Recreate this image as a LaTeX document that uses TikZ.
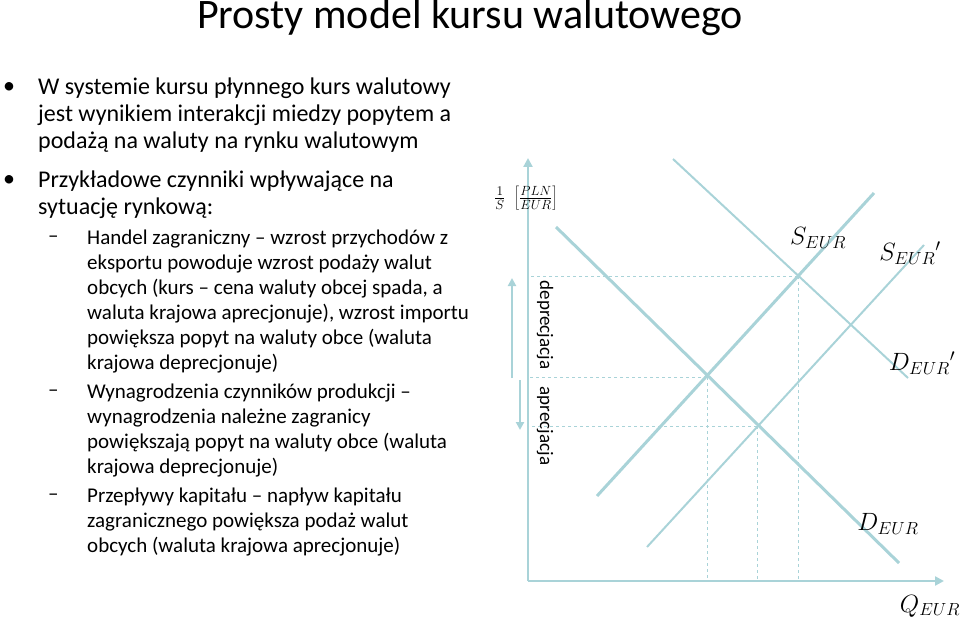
\RequirePackage{fix-cm}
\documentclass[tikz,border=0pt]{standalone}
\usepackage{fontspec}
\setmainfont{Carlito}
\usetikzlibrary{arrows.meta}
\begin{document}
\begin{tikzpicture}[x=1pt,y=-1pt,
 ln/.style={draw=cl,line width=3pt},
 lt/.style={draw=cl,line width=2pt},
 dl/.style={draw=cl,dashed,line width=0.7pt},
 t1/.style={anchor=west,inner sep=0pt,font=\fontsize{24}{28}\selectfont},
 t2/.style={anchor=west,inner sep=0pt,font=\fontsize{21}{25}\selectfont},
 lab/.style={inner sep=0pt,font=\fontsize{25}{30}\selectfont}]
\definecolor{cl}{HTML}{A9D3D8}
\useasboundingbox (0,0) rectangle (960,620);
\node[inner sep=0pt,font=\fontsize{42}{50}\selectfont] (title) at (470,18) {Prosty model kursu walutowego};
% bullets
\node[t1] (b1) at (3,88) {•};
\node[t1] (l1) at (38,88) {W systemie kursu płynnego kurs walutowy};
\node[t1] (l2) at (38,115) {jest wynikiem interakcji miedzy popytem a};
\node[t1] (l3) at (38,142) {podażą na waluty na rynku walutowym};
\node[t1] (b2) at (3,181) {•};
\node[t1] (l4) at (38,181) {Przykładowe czynniki wpływające na};
\node[t1] (l5) at (38,208) {sytuację rynkową:};
\foreach \n/\yy in {d1/239,d2/393,d3/497}{\node[t2] (\n) at (48,\yy) {–};}
\foreach \n/\yy/\tx in {
 s1/239/{Handel zagraniczny – wzrost przychodów z},
 s2/264/{eksportu powoduje wzrost podaży walut},
 s3/289/{obcych (kurs – cena waluty obcej spada, a},
 s4/314/{waluta krajowa aprecjonuje), wzrost importu},
 s5/339/{powiększa popyt na waluty obce (waluta},
 s6/364/{krajowa deprecjonuje)},
 s7/393/{Wynagrodzenia czynników produkcji –},
 s8/418/{wynagrodzenia należne zagranicy},
 s9/443/{powiększają popyt na waluty obce (waluta},
 s10/468/{krajowa deprecjonuje)},
 s11/497/{Przepływy kapitału – napływ kapitału},
 s12/522/{zagranicznego powiększa podaż walut},
 s13/547/{obcych (waluta krajowa aprecjonuje)}}
 {\node[t2] (\n) at (87,\yy) {\tx};}
% axes
\coordinate (O) at (528,581);
\coordinate (Y) at (528,158);
\coordinate (X) at (944,581);
\draw[cl,line width=2.5pt,-{Triangle[length=9pt,width=9pt]}] (O) -- (Y);
\draw[cl,line width=2.5pt,-{Triangle[length=9pt,width=9pt]}] (O) -- (X);
% curves
\coordinate (Da) at (556,227); \coordinate (Db) at (899,563);
\coordinate (Sa) at (597,496); \coordinate (Sb) at (874,193);
\coordinate (Pa) at (673,159); \coordinate (Pb) at (908,378);
\coordinate (Qa) at (647,547); \coordinate (Qb) at (924,245);
\draw[ln] (Da) -- (Db);
\draw[ln] (Sa) -- (Sb);
\draw[lt] (Pa) -- (Pb);
\draw[lt] (Qa) -- (Qb);
% dashed guides
\coordinate (E1) at (707,377); \coordinate (E2) at (757,426); \coordinate (E3) at (798,276);
\foreach \e in {E1,E2,E3}{
 \draw[dl] (\e) -- (O|-\e);
 \draw[dl] (\e) -- (\e|-O);}
% arrows
\coordinate (u1) at (512,378); \coordinate (u2) at (512,278);
\coordinate (w1) at (520,380); \coordinate (w2) at (520,430);
\draw[cl,line width=2.5pt,-{Triangle[length=8pt,width=8pt]}] (u1) -- (u2);
\draw[cl,line width=2.5pt,-{Triangle[length=8pt,width=8pt]}] (w1) -- (w2);
\node[rotate=-90,inner sep=0pt,font=\fontsize{19}{22}\selectfont] (dep) at (545,325) {deprecjacja};
\node[rotate=-90,inner sep=0pt,font=\fontsize{19}{22}\selectfont] (apr) at (545,426) {aprecjacja};
% labels
\node[inner sep=0pt,font=\fontsize{19}{23}\selectfont] (ax) at (526,198) {$\frac{1}{S}\;\left[\frac{PLN}{EUR}\right]$};
\node[lab] (sl) at (818,238) {$S_{EUR}$};
\node[lab] (spl) at (910,253) {$S_{EUR}{}'$};
\node[lab] (dpl) at (922,363) {$D_{EUR}{}'$};
\node[lab] (dl) at (888,524) {$D_{EUR}$};
\node[lab] (ql) at (930,606) {$Q_{EUR}$};
\end{tikzpicture}
\end{document}
